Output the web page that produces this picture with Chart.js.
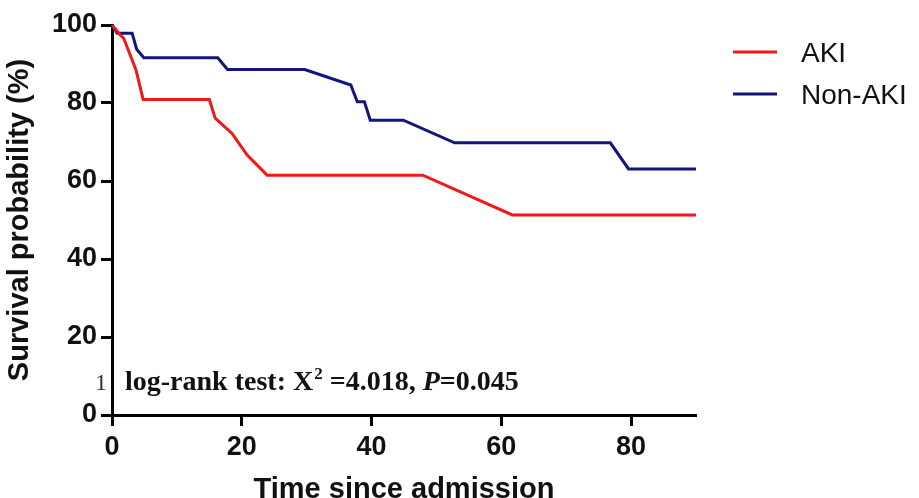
<!DOCTYPE html>
<html>
<head>
<meta charset="utf-8">
<script src="https://cdn.jsdelivr.net/npm/chart.js@4"></script>
<style>
  html, body { margin: 0; padding: 0; background: #fff; }
  #wrap { position: relative; width: 919px; height: 498px; }
</style>
</head>
<body>
<div id="wrap"><canvas id="c" width="919" height="498"></canvas></div>
<script>
// ---- data ----
const akiTime   = [0, 1.3, 1.8, 3.7, 4.8, 15.0, 15.9, 18.5, 20.8, 23.9, 47.9, 61.7, 90];
const akiSurv   = [100, 97.4, 96.6, 88.5, 80.9, 80.9, 76.1, 72.2, 66.7, 61.5, 61.5, 51.3, 51.3];
const nonAkiTime = [0, 0.8, 3.1, 3.8, 4.9, 16.3, 17.8, 29.7, 36.8, 37.8, 38.9, 39.8, 44.9, 52.8, 76.8, 79.6, 90];
const nonAkiSurv = [100, 97.9, 97.9, 93.8, 91.6, 91.6, 88.6, 88.6, 84.6, 80.3, 80.3, 75.6, 75.6, 69.8, 69.8, 63.1, 63.1];
const xTicks = [0, 20, 40, 60, 80];
const yTicks = [0, 20, 40, 60, 80, 100];
const seriesNames = ['AKI', 'Non-AKI'];
const seriesColors = ['#f01818', '#14147e'];
const xTitle = 'Time since admission';
const yTitle = 'Survival probability (%)';
const statText = { pre: 'log-rank test: X', sup: '2', mid: ' =4.018, ', ital: 'P', post: '=0.045' };

const toPts = (xs, ys) => xs.map((x, i) => ({ x: x, y: ys[i] }));

const overlay = {
  id: 'overlay',
  afterDraw(chart) {
    const ctx = chart.ctx;
    ctx.save();
    // legend
    const ly = [54, 96];
    seriesNames.forEach((n, i) => {
      ctx.strokeStyle = seriesColors[i];
      ctx.lineWidth = 3;
      ctx.beginPath();
      ctx.moveTo(733, ly[i] - 2);
      ctx.lineTo(777, ly[i] - 2);
      ctx.stroke();
      ctx.fillStyle = '#111';
      ctx.font = '28px "Liberation Sans", Arial, sans-serif';
      ctx.textBaseline = 'middle';
      ctx.textAlign = 'left';
      ctx.fillText(n, 801, ly[i]);
    });
    // stray "1"
    ctx.textBaseline = 'alphabetic';
    ctx.fillStyle = '#333';
    ctx.font = '24px "Liberation Serif", "Times New Roman", serif';
    ctx.textAlign = 'center';
    ctx.fillText('1', 101, 390);
    // log-rank annotation
    ctx.textAlign = 'left';
    ctx.fillStyle = '#111';
    let x = 125;
    const by = 390;
    const bold = 'bold 28px "Liberation Serif", "Times New Roman", serif';
    ctx.font = bold;
    ctx.fillText(statText.pre, x, by); x += ctx.measureText(statText.pre).width + 1;
    ctx.font = 'bold 17px "Liberation Serif", "Times New Roman", serif';
    ctx.fillText(statText.sup, x, by - 11); x += ctx.measureText(statText.sup).width;
    ctx.font = bold;
    ctx.fillText(statText.mid, x, by); x += ctx.measureText(statText.mid).width;
    ctx.font = 'italic bold 28px "Liberation Serif", "Times New Roman", serif';
    ctx.fillText(statText.ital, x, by); x += ctx.measureText(statText.ital).width;
    ctx.font = bold;
    ctx.fillText(statText.post, x, by);
    ctx.restore();
  }
};

new Chart(document.getElementById('c'), {
  type: 'line',
  data: {
    datasets: [
      { label: seriesNames[0], data: toPts(akiTime, akiSurv), borderColor: seriesColors[0], borderWidth: 3, pointRadius: 0, tension: 0, fill: false, clip: false },
      { label: seriesNames[1], data: toPts(nonAkiTime, nonAkiSurv), borderColor: seriesColors[1], borderWidth: 3, pointRadius: 0, tension: 0, fill: false, clip: false }
    ]
  },
  options: {
    responsive: false,
    animation: false,
    devicePixelRatio: 1,
    layout: { padding: { top: 25, right: 223, bottom: 0, left: 0 } },
    plugins: { legend: { display: false }, tooltip: { enabled: false } },
    scales: {
      x: {
        type: 'linear', min: 0, max: 90,
        afterBuildTicks: (s) => { s.ticks = xTicks.map(v => ({ value: v })); },
        afterFit: (s) => { s.height = 83; },
        grid: { display: true, drawOnChartArea: false, drawTicks: true, tickLength: 11, tickWidth: 3, tickColor: '#000' },
        border: { display: true, width: 3, color: '#000' },
        ticks: { color: '#111', font: { family: '"Liberation Sans", Arial, sans-serif', size: 27, weight: 'bold' }, padding: 5, maxRotation: 0 },
        title: { display: true, text: xTitle, color: '#111', font: { family: '"Liberation Sans", Arial, sans-serif', size: 29, weight: 'bold' }, padding: { top: 0, bottom: -9 } }
      },
      y: {
        type: 'linear', min: 0, max: 100,
        afterBuildTicks: (s) => { s.ticks = yTicks.map(v => ({ value: v })); },
        afterFit: (s) => { s.width = 112; },
        grid: { display: true, drawOnChartArea: false, drawTicks: true, tickLength: 11, tickWidth: 3, tickColor: '#000' },
        border: { display: true, width: 3, color: '#000' },
        ticks: { color: '#111', font: { family: '"Liberation Sans", Arial, sans-serif', size: 27, weight: 'bold' }, padding: 4 },
        title: { display: true, text: yTitle, color: '#111', font: { family: '"Liberation Sans", Arial, sans-serif', size: 29, weight: 'bold' }, padding: { top: 3, bottom: 0 } }
      }
    }
  },
  plugins: [overlay]
});
</script>
</body>
</html>
